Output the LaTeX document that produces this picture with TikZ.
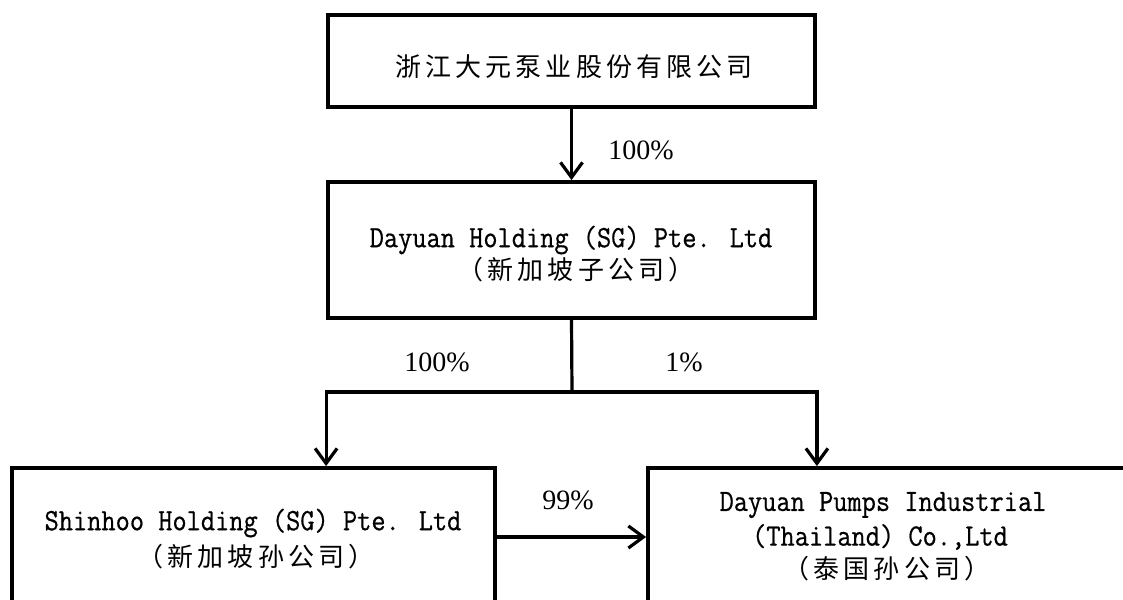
\documentclass[tikz,border=0pt]{standalone}
\usepackage{fontspec}
\usetikzlibrary{arrows.meta}
\newfontfamily\cjk[LetterSpace=16]{Noto Sans CJK SC}
\newfontfamily\pctfont{Liberation Serif}
\newfontfamily\latfont[FakeStretch=0.89,FakeBold=0.6]{Latin Modern Mono}
\begin{document}
\begin{tikzpicture}[x=1pt,y=-1pt,
  box/.style={draw=black,line width=3.8pt,fill=white,inner sep=0pt,anchor=center},
  conn/.style={draw=black,line width=3.2pt},
  arr/.style={conn,-{Straight Barb[length=15pt,width=22pt]}},
  lat/.style={font=\latfont\fontsize{31}{34}\selectfont,inner sep=0pt},
  zh/.style={font=\cjk\fontsize{26}{30}\selectfont,inner sep=0pt},
  pct/.style={font=\pctfont\fontsize{28}{30}\selectfont,inner sep=0pt}]
\useasboundingbox (0,0) rectangle (1123,599);
\clip (0,0) rectangle (1123,599);
\fill[white] (0,0) rectangle (1123,599);
% boxes
\node[box,minimum width=487pt,minimum height=92pt] (top) at (571.5,61) {};
\node[box,minimum width=487pt,minimum height=136pt] (mid) at (571.5,250) {};
\node[box,minimum width=483pt,minimum height=192pt] (left) at (253.5,564) {};
\node[box,minimum width=482pt,minimum height=192pt] (right) at (889,564) {};
% texts
\node[zh] (t1) at (574,67) {浙江大元泵业股份有限公司};
\node[lat] (m1) at (571,240) {Dayuan Holding (SG) Pte. Ltd};
\node[zh] (m2) at (576,270) {（新加坡子公司）};
\node[lat] (l1) at (253,523) {Shinhoo Holding (SG) Pte. Ltd};
\node[zh] (l2) at (256,557) {（新加坡孙公司）};
\node[lat] (r1) at (883,505) {Dayuan Pumps Industrial};
\node[lat] (r2) at (880,537) {(Thailand) Co.,Ltd};
\node[zh] (r3) at (887,569) {（泰国孙公司）};
% connectors
\draw[arr] (top.south) -- (mid.north);
\node[pct] (p1) at (641,150) {100\%};
\coordinate (br) at (572,392);
\draw[conn] (mid.south) -- (br);
\draw[arr] (br) -| (left.north -| top.west);
\draw[arr] (br) -| (right.north -| top.east);
\node[pct] (p2) at (437,362) {100\%};
\node[pct] (p3) at (684,362) {1\%};
\coordinate (h) at (0,537);
\draw[arr] (left.east |- h) -- (right.west |- h);
\node[pct] (p4) at (568,500) {99\%};
\end{tikzpicture}
\end{document}
